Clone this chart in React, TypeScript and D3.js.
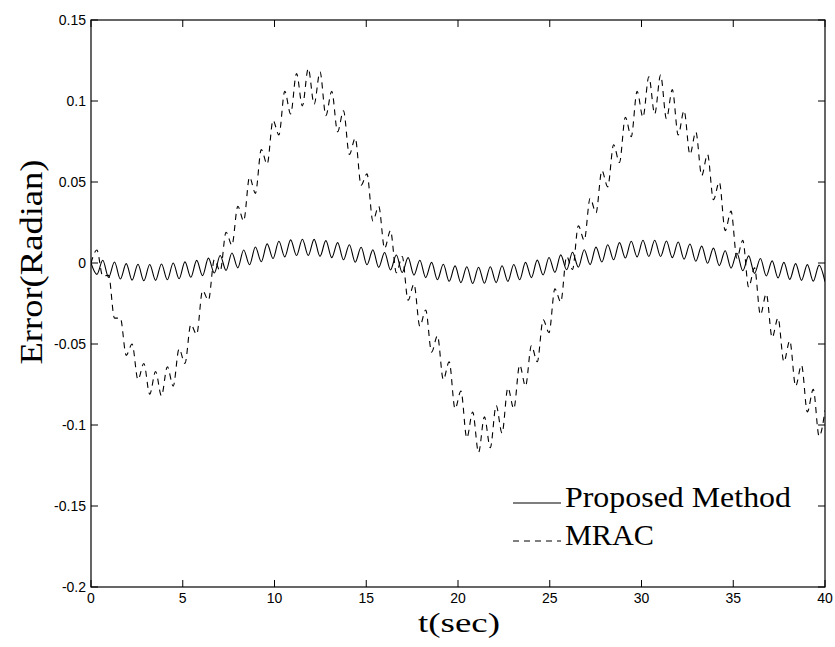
import React from "react";
import * as d3 from "d3";

// Sample step (s) between successive ripple extrema
const SAMPLE_STEP = 0.32;

// Proposed Method: error values at successive ripple extrema (radian)
const proposed = [
  0, -0.007, 0.0017, -0.0089, 0.0006, -0.0099, -0.0004, -0.0106, -0.0008, -0.011,
  -0.0009, -0.0107, -0.0006, -0.0103, 0.0, -0.0097, 0.0007, -0.0088, 0.0016, -0.0078,
  0.003, -0.0062, 0.0046, -0.0046, 0.0062, -0.003, 0.008, -0.0011, 0.0099, 0.0008,
  0.0118, 0.0028, 0.0134, 0.0038, 0.0143, 0.0046, 0.0147, 0.0047, 0.0146, 0.0041,
  0.0138, 0.0033, 0.0126, 0.002, 0.0113, 0.0005, 0.0097, -0.0011, 0.0081, -0.0027,
  0.0065, -0.0043, 0.0049, -0.0059, 0.0033, -0.0075, 0.0017, -0.009, 0.0004, -0.0103,
  -0.0008, -0.0113, -0.0018, -0.0121, -0.0023, -0.0126, -0.0026, -0.0125, -0.0023, -0.0121,
  -0.0017, -0.0113, -0.0009, -0.0103, 0.0004, -0.009, 0.0018, -0.0074, 0.0034, -0.0058,
  0.005, -0.0042, 0.0066, -0.0026, 0.0082, -0.001, 0.0098, 0.0006, 0.0113, 0.002,
  0.0126, 0.0031, 0.0134, 0.0038, 0.014, 0.004, 0.014, 0.004, 0.0136, 0.0033,
  0.013, 0.0024, 0.0117, 0.0011, 0.0104, -0.0002, 0.0092, -0.0016, 0.0076, -0.0032,
  0.006, -0.0048, 0.0044, -0.0064, 0.0028, -0.008, 0.0013, -0.0092, 0.0004, -0.0101,
  -0.0004, -0.0107, -0.001, -0.0112, -0.0013, -0.0115,
];

// MRAC: error values at successive ripple extrema (radian)
const mrac = [
  0, 0.008, -0.008, -0.0076, -0.034, -0.034, -0.057, -0.05, -0.072, -0.062,
  -0.081, -0.067, -0.082, -0.064, -0.076, -0.053, -0.062, -0.038, -0.044, -0.017,
  -0.023, 0.002, -0.005, 0.019, 0.011, 0.035, 0.026, 0.053, 0.043, 0.07,
  0.061, 0.088, 0.079, 0.106, 0.092, 0.117, 0.097, 0.12, 0.098, 0.118,
  0.091, 0.106, 0.081, 0.094, 0.067, 0.077, 0.048, 0.055, 0.026, 0.035,
  0.009, 0.02, -0.006, 0.004, -0.023, -0.013, -0.039, -0.029, -0.055, -0.045,
  -0.072, -0.061, -0.09, -0.079, -0.108, -0.092, -0.117, -0.095, -0.114, -0.088,
  -0.105, -0.077, -0.09, -0.063, -0.076, -0.051, -0.061, -0.035, -0.043, -0.016,
  -0.024, 0.004, -0.004, 0.023, 0.014, 0.04, 0.031, 0.057, 0.047, 0.073,
  0.062, 0.09, 0.078, 0.106, 0.09, 0.115, 0.092, 0.116, 0.089, 0.107,
  0.079, 0.094, 0.067, 0.081, 0.054, 0.067, 0.039, 0.05, 0.02, 0.032,
  0.003, 0.014, -0.015, -0.003, -0.032, -0.019, -0.046, -0.034, -0.061, -0.048,
  -0.076, -0.063, -0.092, -0.078, -0.107, -0.091,
];

const xTicks = [0, 5, 10, 15, 20, 25, 30, 35, 40];
const yTicks = [-0.2, -0.15, -0.1, -0.05, 0, 0.05, 0.1, 0.15];
const legendLabels = ["Proposed Method", "MRAC"];

const W = 835;
const H = 647;
const M = { left: 91, right: 10, top: 20, bottom: 60 };

export default function App() {
  const x = d3.scaleLinear().domain([0, 40]).range([M.left, W - M.right]);
  const y = d3.scaleLinear().domain([-0.2, 0.15]).range([H - M.bottom, M.top]);

  const toPts = (arr: number[]) => arr.map((v, i) => [i * SAMPLE_STEP, v] as [number, number]);
  const line = d3
    .line<[number, number]>()
    .x((d) => x(Math.min(d[0], 40)))
    .y((d) => y(d[1]))
    .curve(d3.curveMonotoneX);

  const x0 = x(0), x1 = x(40), y0 = y(-0.2), y1 = y(0.15);
  const tl = 7;
  const tickFont = { fontFamily: "'Liberation Sans', Arial, sans-serif", fontSize: 14 };
  const serif = "'Liberation Serif', 'Times New Roman', serif";

  return (
    <svg width={W} height={H} style={{ position: "absolute", left: 0, top: 0, background: "#fff" }}>
      <rect x={0} y={0} width={W} height={H} fill="#fff" />
      <defs>
        <clipPath id="plot">
          <rect x={x0} y={y1} width={x1 - x0} height={y0 - y1} />
        </clipPath>
      </defs>
      <g clipPath="url(#plot)">
        <path d={line(toPts(proposed)) || ""} fill="none" stroke="#000" strokeWidth={1.1} />
        <path d={line(toPts(mrac)) || ""} fill="none" stroke="#000" strokeWidth={1.1} strokeDasharray="6,5" />
      </g>
      {/* frame */}
      <rect x={x0} y={y1} width={x1 - x0} height={y0 - y1} fill="none" stroke="#000" strokeWidth={1.2} />
      {xTicks.map((t) => (
        <g key={"x" + t}>
          <line x1={x(t)} x2={x(t)} y1={y0} y2={y0 - tl} stroke="#000" />
          <line x1={x(t)} x2={x(t)} y1={y1} y2={y1 + tl} stroke="#000" />
          <text x={x(t)} y={y0 + 16} textAnchor="middle" {...tickFont}>{String(t)}</text>
        </g>
      ))}
      {yTicks.map((t) => (
        <g key={"y" + t}>
          <line x1={x0} x2={x0 + tl} y1={y(t)} y2={y(t)} stroke="#000" />
          <line x1={x1} x2={x1 - tl} y1={y(t)} y2={y(t)} stroke="#000" />
          <text x={x0 - 5} y={y(t) + 5} textAnchor="end" {...tickFont}>{String(t)}</text>
        </g>
      ))}
      {/* axis labels */}
      <text x={459} y={632} textAnchor="middle" fontFamily={serif} fontSize={28} textLength={82} lengthAdjust="spacingAndGlyphs">t(sec)</text>
      <text transform={`translate(42,262) rotate(-90)`} textAnchor="middle" fontFamily={serif} fontSize={31} textLength={205} lengthAdjust="spacingAndGlyphs">Error(Radian)</text>
      {/* legend */}
      <line x1={513} x2={561} y1={503} y2={503} stroke="#000" strokeWidth={1.1} />
      <text x={565} y={507} fontFamily={serif} fontSize={29} textLength={226} lengthAdjust="spacingAndGlyphs">{legendLabels[0]}</text>
      <line x1={513} x2={561} y1={541} y2={541} stroke="#000" strokeWidth={1.1} strokeDasharray="6,5" />
      <text x={565} y={545} fontFamily={serif} fontSize={29} textLength={89} lengthAdjust="spacingAndGlyphs">{legendLabels[1]}</text>
    </svg>
  );
}
